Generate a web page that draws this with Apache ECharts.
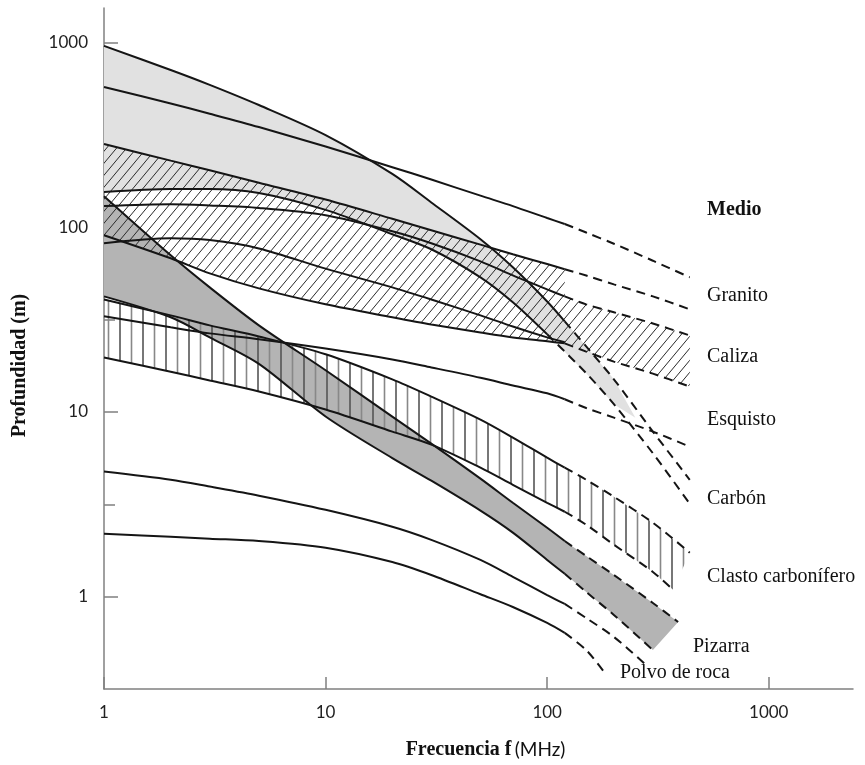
<!DOCTYPE html>
<html><head><meta charset="utf-8">
<script src="https://cdn.jsdelivr.net/npm/echarts@6/dist/echarts.min.js"></script>
<style>html,body{margin:0;padding:0;background:#fff}#c{width:865px;height:765px}</style>
</head><body><div id="c"></div>
<script>
// ---- data: [frequency (MHz), depth (m)] ----
const xTicks = [1, 10, 100, 1000];
const yTicks = [1, 10, 100, 1000];
const yMinorTicks = [3.162, 31.62, 316.2];

const carbonTop = [[1,957],[2,709],[3,589],[5,458],[10,315],[20,194],[30,136],[50,86],[70,60.6],[100,39.6],[120,30.9]];
const carbonTopDash = [[120,30.9],[150,22.6],[200,15.0],[300,7.82],[440,4.29]];
const carbonBottom = [[1,155],[2,161],[3,161],[5,153],[10,124],[20,91.5],[30,75.9],[50,53.5],[70,39.2],[100,26.3]];
const carbonBottomDash = [[100,26.3],[150,16.2],[200,11.0],[300,5.97],[440,3.18]];
const carbonFillTip = [[250,9.3]];

const graniteTop = [[1,574],[2,467],[3,411],[5,348],[10,273],[20,211],[30,181],[50,148],[70,130],[100,112],[120,104]];
const graniteTopDash = [[120,104],[150,93.5],[200,81.3],[300,65.8],[440,53.5]];
const graniteBottom = [[1,282],[2,229],[3,203],[5,174],[10,141],[20,111],[30,96.2],[50,80.4],[70,71.3],[100,63.1],[120,59.2]];
const graniteBottomDash = [[120,59.2],[150,54.7],[200,49.0],[300,42.2],[440,35.9]];

const limestoneTop = [[1,130],[2,133],[3,131],[5,127],[10,116],[20,95],[30,81.8],[50,65.3],[70,54.8],[100,46.0],[120,42.2]];
const limestoneTopDash = [[120,42.2],[150,38.2],[200,34.6],[300,30.1],[440,25.9]];
const limestoneMid = [[1,81.8],[2,87.1],[3,85.1],[5,76.7],[10,59.6],[20,47.2],[30,40.6],[50,33.3],[70,29.0],[100,25.3],[120,23.8]];
const limestoneBottom = [[1,90.4],[2,67.8],[3,56.2],[5,46.6],[10,38.2],[20,32.5],[30,29.7],[50,26.9],[70,25.3],[100,24.1],[120,23.5]];
const limestoneBottomDash = [[120,23.5],[150,21.2],[200,18.7],[300,16.1],[440,13.7]];

const shale = [[1,32.9],[2,28.7],[3,26.6],[5,24.7],[10,22.0],[20,19.2],[30,17.4],[50,15.3],[70,13.9],[100,12.6],[120,11.7]];
const shaleDash = [[120,11.7],[150,10.5],[200,9.31],[300,7.82],[440,6.48]];

const clastTop = [[1,40.6],[2,33.3],[3,29.4],[5,25.6],[10,20.5],[20,15.0],[30,12.1],[50,9.08],[70,7.26],[100,5.65],[120,4.99]];
const clastTopDash = [[120,4.99],[150,4.29],[200,3.47],[300,2.51],[440,1.73]];
const clastBottom = [[1,19.7],[2,16.5],[3,14.8],[5,12.9],[10,10.3],[20,7.82],[30,6.65],[50,4.99],[70,4.03],[100,3.22],[120,2.88]];
const clastBottomDash = [[120,2.88],[150,2.45],[200,1.91],[300,1.36],[370,1.09]];

const slateTop = [[1,147],[2,70.4],[3,47.2],[5,29.4],[10,16.8],[20,9.43],[30,6.73],[50,4.35],[70,3.22],[100,2.36],[120,2.00]];
const slateTopDash = [[120,2.00],[150,1.66],[200,1.31],[300,0.924],[390,0.729]];
const slateBottom = [[1,42.2],[2,32.5],[3,25.3],[5,18.2],[10,9.44],[20,5.62],[30,4.24],[50,2.92],[70,2.22],[100,1.58],[120,1.33]];
const slateBottomDash = [[120,1.33],[150,1.06],[200,0.796],[300,0.514]];

const rockTop = [[1,4.75],[2,4.29],[3,3.94],[5,3.52],[10,2.95],[20,2.39],[30,2.03],[50,1.58],[70,1.28],[100,1.02],[120,0.913]];
const rockTopDash = [[120,0.913],[150,0.766],[200,0.605],[280,0.426]];
const rockBottom = [[1,2.19],[2,2.11],[3,2.06],[5,2.00],[10,1.84],[20,1.54],[30,1.31],[50,1.03],[70,0.879],[100,0.720],[120,0.636]];
const rockBottomDash = [[120,0.636],[150,0.514],[185,0.376]];

const labels = [
  {text:'Medio', x:707, y:211, bold:true},
  {text:'Granito', x:707, y:297},
  {text:'Caliza', x:707, y:358},
  {text:'Esquisto', x:707, y:421},
  {text:'Carbón', x:707, y:500},
  {text:'Clasto carbonífero', x:707, y:578},
  {text:'Pizarra', x:693, y:648},
  {text:'Polvo de roca', x:620, y:674}
];

// ---- patterns ----
function diagPattern() {
  const w = 10, h = 12;
  const c = document.createElement('canvas'); c.width = w; c.height = h;
  const ctx = c.getContext('2d');
  ctx.strokeStyle = '#2a2a2a'; ctx.lineWidth = 1;
  ctx.beginPath();
  ctx.moveTo(0, h); ctx.lineTo(w, 0);
  ctx.moveTo(-w, h); ctx.lineTo(0, 0);
  ctx.moveTo(w, h); ctx.lineTo(2 * w, 0);
  ctx.stroke();
  return c;
}
function vertPattern() {
  const w = 23, h = 4;
  const c = document.createElement('canvas'); c.width = w; c.height = h;
  const ctx = c.getContext('2d');
  ctx.lineWidth = 1.6;
  ctx.strokeStyle = '#555';
  ctx.beginPath(); ctx.moveTo(5, 0); ctx.lineTo(5, h); ctx.stroke();
  ctx.strokeStyle = '#888';
  ctx.beginPath(); ctx.moveTo(16.5, 0); ctx.lineTo(16.5, h); ctx.stroke();
  return c;
}

function band(upper, lower, fill, z) {
  const poly = upper.concat(lower.slice().reverse());
  return {
    type: 'custom', coordinateSystem: 'cartesian2d', silent: true, z: z,
    data: poly,
    renderItem: function (params, api) {
      if (params.dataIndex !== 0) return null;
      const pts = poly.map(p => api.coord(p));
      return { type: 'polygon', shape: { points: pts }, style: { fill: fill, stroke: null } };
    }
  };
}
function line(data, dashed) {
  return {
    type: 'line', data: data, symbol: 'none', showSymbol: false, smooth: 0.3,
    silent: true, z: 5,
    lineStyle: { color: '#151515', width: 2, type: dashed ? [9, 6] : 'solid' }
  };
}

const fmt = v => String(Math.round(v));
const series = [
  band(carbonTop.concat(carbonTopDash.slice(1, 3), carbonFillTip),
       carbonBottom.concat(carbonBottomDash.slice(1, 3)), '#e1e1e1', 1),
  band(slateTop.concat(slateTopDash.slice(1)), slateBottom.concat(slateBottomDash.slice(1)), '#b4b4b4', 1),
  band(graniteBottom.concat(limestoneTopDash), limestoneBottom.concat(limestoneBottomDash.slice(1)),
       { image: diagPattern(), repeat: 'repeat' }, 2),
  band(clastTop.concat(clastTopDash.slice(1)), clastBottom.concat(clastBottomDash.slice(1)),
       { image: vertPattern(), repeat: 'repeat' }, 2)
];
[[carbonTop, carbonTopDash], [carbonBottom, carbonBottomDash], [graniteTop, graniteTopDash],
 [graniteBottom, graniteBottomDash], [limestoneTop, limestoneTopDash], [limestoneBottom, limestoneBottomDash],
 [shale, shaleDash], [clastTop, clastTopDash], [clastBottom, clastBottomDash], [slateTop, slateTopDash],
 [slateBottom, slateBottomDash], [rockTop, rockTopDash], [rockBottom, rockBottomDash]].forEach(pair => {
  series.push(line(pair[0], false));
  series.push(line(pair[1], true));
});
series.push(line(limestoneMid, false));

const axisColor = '#808080';
const chart = echarts.init(document.getElementById('c'));
chart.setOption({
  animation: false,
  backgroundColor: '#fff',
  grid: { left: 104, right: 12, top: 8, bottom: 76 },
  xAxis: {
    type: 'log', logBase: 10, min: 1, max: 2400,
    axisLine: { show: true, lineStyle: { color: axisColor, width: 1.5 } },
    axisTick: { show: true, inside: true, length: 12, customValues: xTicks, lineStyle: { color: axisColor, width: 1.5 } },
    axisLabel: { customValues: xTicks, formatter: fmt, margin: 15, fontFamily: 'Lato', fontSize: 17, color: '#222' },
    splitLine: { show: false },
    name: '{a|Frecuencia f} {b|(MHz)}', nameLocation: 'middle', nameGap: 51,
    nameTextStyle: {
      padding: [0, 0, 0, 14],
      rich: {
        a: { fontFamily: 'Liberation Serif', fontWeight: 'bold', fontSize: 20, color: '#111' },
        b: { fontFamily: 'Lato', fontSize: 19, color: '#111' }
      }
    }
  },
  yAxis: [{
    type: 'log', logBase: 10, min: 0.3162, max: 1535,
    axisLine: { show: true, lineStyle: { color: axisColor, width: 1.5 } },
    axisTick: { show: true, inside: true, length: 14, customValues: yTicks, lineStyle: { color: axisColor, width: 1.5 } },
    axisLabel: { customValues: yTicks, formatter: fmt, margin: 16, fontFamily: 'Lato', fontSize: 17, color: '#222' },
    splitLine: { show: false },
    name: 'Profundidad (m)', nameLocation: 'middle', nameGap: 74, nameRotate: 90,
    nameTextStyle: { fontFamily: 'Liberation Serif', fontWeight: 'bold', fontSize: 20, color: '#111', padding: [0, 34, 0, 0] }
  }, {
    type: 'log', logBase: 10, min: 0.3162, max: 1535, position: 'left',
    axisLine: { show: false },
    axisTick: { show: true, inside: true, length: 11, customValues: yMinorTicks, lineStyle: { color: axisColor, width: 1.5 } },
    axisLabel: { show: false },
    splitLine: { show: false }
  }],
  graphic: labels.map(l => ({
    type: 'text', left: l.x, top: l.y - 11,
    style: { text: l.text, font: (l.bold ? 'bold ' : '') + '20px "Liberation Serif"', fill: '#111' }
  })),
  series: series
});
</script></body></html>
